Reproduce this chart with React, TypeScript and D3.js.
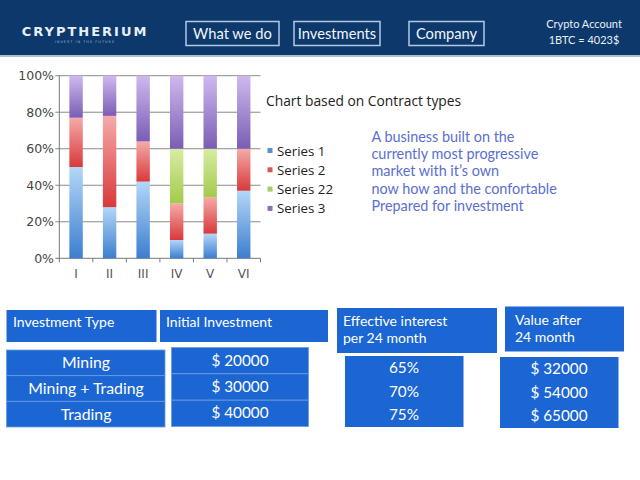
import * as d3 from "d3";

const categories = ["I", "II", "III", "IV", "V", "VI"];
const seriesNames = ["Series 1", "Series 2", "Series 22", "Series 3"];
const series1 = [50, 28, 42, 10, 13.5, 37];
const series2 = [27, 50, 22, 20, 20, 23];
const series22 = [0, 0, 0, 30, 26.5, 0];
const series3 = [23, 22, 36, 40, 40, 40];
const yTicks = [0, 0.2, 0.4, 0.6, 0.8, 1];

const navItems = ["What we do", "Investments", "Company"];
const blurbLines = [
  "A business built on the",
  "currently most progressive",
  "market with it\u2019s own",
  "now how and the confortable",
  "Prepared for investment",
];

const investmentTypes = ["Mining", "Mining + Trading", "Trading"];
const initialInvestments = [20000, 30000, 40000];
const interestRates = [65, 70, 75];
const valuesAfter = [32000, 54000, 65000];

// gradient stops per series: top (light), bottom (dark)
const GRADS: Record<string, [string, string]> = {
  "Series 1": ["#b3d7f8", "#3c7ecf"],
  "Series 2": ["#f6aaaa", "#d8393a"],
  "Series 22": ["#d8eca4", "#a2cb4c"],
  "Series 3": ["#cfb9ef", "#7a5db4"],
};
const LEGEND_COLORS = ["#5a8fd0", "#d05a5a", "#a9cc6a", "#8a72b4"];

const FONT = "Lato, 'Open Sans', sans-serif";

const PLOT = { left: 59.3, right: 260.5, top: 75.7, bottom: 258.3 };

const App = () => {
  const table = categories.map((c, i) => ({
    x: c,
    "Series 1": series1[i],
    "Series 2": series2[i],
    "Series 22": series22[i],
    "Series 3": series3[i],
  }));
  const stacked = d3
    .stack<any>()
    .keys(seriesNames)
    .order(d3.stackOrderNone)
    .offset(d3.stackOffsetExpand)(table);

  const xScale = d3
    .scaleBand()
    .domain(categories)
    .range([PLOT.left, PLOT.right])
    .paddingInner(0.6)
    .paddingOuter(0.3);
  const yScale = d3.scaleLinear().domain([0, 1]).range([PLOT.bottom, PLOT.top]);
  const step = xScale.step();
  const fmtPct = d3.format(".0%");

  const rowScale = (top: number, bottom: number) =>
    d3.scaleBand<number>().domain([0, 1, 2]).range([top, bottom]);

  const leftRows = rowScale(350, 427);
  const initRows = rowScale(347.5, 426.5);
  const rateRows = rowScale(356, 427);
  const valueRows = rowScale(357, 428);

  const blue = "#1c66d3";

  return (
    <svg
      width={640}
      height={480}
      style={{ position: "absolute", left: 0, top: 0, background: "#fff" }}
    >
      <defs>
        {seriesNames.map((s, i) => (
          <linearGradient key={s} id={`g${i}`} x1="0" y1="0" x2="0" y2="1">
            <stop offset="0%" stopColor={GRADS[s][0]} />
            <stop offset="100%" stopColor={GRADS[s][1]} />
          </linearGradient>
        ))}
      </defs>

      {/* header */}
      <rect x={0} y={0} width={640} height={55} fill="#0c386b" />
      <rect x={0} y={55} width={640} height={2} fill="#a9bfd8" />
      <text
        x={85}
        y={36}
        textAnchor="middle"
        fill="#e8eef6"
        fontFamily="'DejaVu Sans', sans-serif"
        fontWeight="bold"
        fontSize={13}
        letterSpacing={2}
      >
        CRYPTHERIUM
      </text>
      <text
        x={85}
        y={43}
        textAnchor="middle"
        fill="#9fb3cc"
        fontFamily="'DejaVu Sans', sans-serif"
        fontSize={3.5}
        letterSpacing={1}
      >
        INVEST IN THE FUTURE
      </text>
      {navItems.map((n, i) => {
        const boxes = [
          [186, 93],
          [294, 86],
          [409, 75],
        ];
        const [bx, bw] = boxes[i];
        return (
          <g key={n}>
            <rect
              x={bx}
              y={21.5}
              width={bw}
              height={24}
              fill="none"
              stroke="#b4c8e0"
              strokeWidth={1.5}
            />
            <text
              x={bx + bw / 2}
              y={38.8}
              textAnchor="middle"
              fill="#f2f5fa"
              fontFamily={FONT}
              fontSize={14.7}
            >
              {n}
            </text>
          </g>
        );
      })}
      <text x={584} y={28} textAnchor="middle" fill="#e8eef6" fontFamily={FONT} fontSize={11}>
        Crypto Account
      </text>
      <text x={584} y={44} textAnchor="middle" fill="#e8eef6" fontFamily={FONT} fontSize={11}>
        1BTC = 4023$
      </text>

      {/* chart gridlines */}
      {yTicks.map((t) => (
        <g key={t}>
          <line
            x1={PLOT.left - 4}
            x2={PLOT.right}
            y1={yScale(t)}
            y2={yScale(t)}
            stroke={t === 0 ? "#777" : "#8a8a8a"}
            strokeWidth={1}
          />
          <text
            x={54}
            y={yScale(t) + 4.5}
            textAnchor="end"
            fill="#444"
            fontFamily="'DejaVu Sans', sans-serif"
            fontSize={12.5}
          >
            {fmtPct(t)}
          </text>
        </g>
      ))}
      <line x1={PLOT.left} x2={PLOT.left} y1={PLOT.top} y2={PLOT.bottom} stroke="#777" />

      {/* bars */}
      {stacked.map((layer, i) => (
        <g key={layer.key}>
          {layer.map((d, j) =>
            d[1] - d[0] > 0 ? (
              <rect
                key={j}
                x={xScale(d.data.x)}
                y={yScale(d[1])}
                width={xScale.bandwidth()}
                height={yScale(d[0]) - yScale(d[1])}
                fill={`url(#g${i})`}
              />
            ) : null
          )}
        </g>
      ))}

      {/* x ticks and labels */}
      {d3.range(categories.length + 1).map((i) => (
        <line
          key={i}
          x1={PLOT.left + i * step}
          x2={PLOT.left + i * step}
          y1={PLOT.bottom}
          y2={PLOT.bottom + 4}
          stroke="#777"
        />
      ))}
      {categories.map((c) => (
        <text
          key={c}
          x={(xScale(c) ?? 0) + xScale.bandwidth() / 2}
          y={278}
          textAnchor="middle"
          fill="#555"
          fontFamily="'DejaVu Sans', sans-serif"
          fontSize={12}
        >
          {c}
        </text>
      ))}

      {/* title & legend */}
      <text x={266} y={106} fill="#222" fontFamily="'Open Sans', sans-serif" fontSize={13.8}>
        Chart based on Contract types
      </text>
      {seriesNames.map((s, i) => {
        const cy = 151 + i * 19.3;
        return (
          <g key={s}>
            <rect x={267.5} y={cy - 3} width={5} height={5} fill={LEGEND_COLORS[i]} />
            <text x={277} y={cy + 4.5} fill="#222" fontFamily="'Open Sans', sans-serif" fontSize={13.3}>
              {s}
            </text>
          </g>
        );
      })}

      {/* blurb */}
      {blurbLines.map((l, i) => (
        <text
          key={i}
          x={371.5}
          y={142 + i * 17.2}
          fill="#5a6fd0"
          fontFamily={FONT}
          fontSize={14.4}
        >
          {l}
        </text>
      ))}

      {/* table headers */}
      <rect x={6.5} y={310} width={150} height={32} fill={blue} />
      <text x={13} y={327} fill="#fff" fontFamily={FONT} fontSize={14}>
        Investment Type
      </text>
      <rect x={160} y={310} width={168} height={32} fill={blue} />
      <text x={166} y={327} fill="#fff" fontFamily={FONT} fontSize={14}>
        Initial Investment
      </text>
      <rect x={337} y={308} width={160} height={45} fill={blue} />
      <text x={343} y={326} fill="#fff" fontFamily={FONT} fontSize={14}>
        Effective interest
      </text>
      <text x={343} y={343} fill="#fff" fontFamily={FONT} fontSize={14}>
        per 24 month
      </text>
      <rect x={505} y={306.5} width={119} height={45} fill={blue} />
      <text x={515} y={325} fill="#fff" fontFamily={FONT} fontSize={14}>
        Value after
      </text>
      <text x={515} y={342} fill="#fff" fontFamily={FONT} fontSize={14}>
        24 month
      </text>

      {/* table bodies */}
      {investmentTypes.map((t, i) => (
        <g key={t}>
          <rect x={6.5} y={leftRows(i)} width={158.5} height={leftRows.bandwidth()} fill={blue} stroke="#6b9ae0" strokeWidth={0.8} />
          <text
            x={86}
            y={(leftRows(i) ?? 0) + leftRows.bandwidth() / 2 + 5.5}
            textAnchor="middle"
            fill="#fff"
            fontFamily={FONT}
            fontSize={15.8}
          >
            {t}
          </text>
        </g>
      ))}
      {initialInvestments.map((v, i) => (
        <g key={v}>
          <rect x={171.5} y={initRows(i)} width={137} height={initRows.bandwidth()} fill={blue} stroke="#6b9ae0" strokeWidth={0.8} />
          <text
            x={240}
            y={(initRows(i) ?? 0) + initRows.bandwidth() / 2 + 5}
            textAnchor="middle"
            fill="#fff"
            fontFamily={FONT}
            fontSize={15.3}
          >
            {`$ ${v}`}
          </text>
        </g>
      ))}
      <rect x={345} y={356} width={118.5} height={71} fill={blue} />
      {interestRates.map((v, i) => (
        <text
          key={v}
          x={404}
          y={(rateRows(i) ?? 0) + rateRows.bandwidth() / 2 + 5}
          textAnchor="middle"
          fill="#fff"
          fontFamily={FONT}
          fontSize={15.3}
        >
          {`${v}%`}
        </text>
      ))}
      <rect x={500} y={357} width={118.5} height={71} fill={blue} />
      {valuesAfter.map((v, i) => (
        <text
          key={v}
          x={559}
          y={(valueRows(i) ?? 0) + valueRows.bandwidth() / 2 + 5}
          textAnchor="middle"
          fill="#fff"
          fontFamily={FONT}
          fontSize={15.3}
        >
          {`$ ${v}`}
        </text>
      ))}
    </svg>
  );
};

export default App;
